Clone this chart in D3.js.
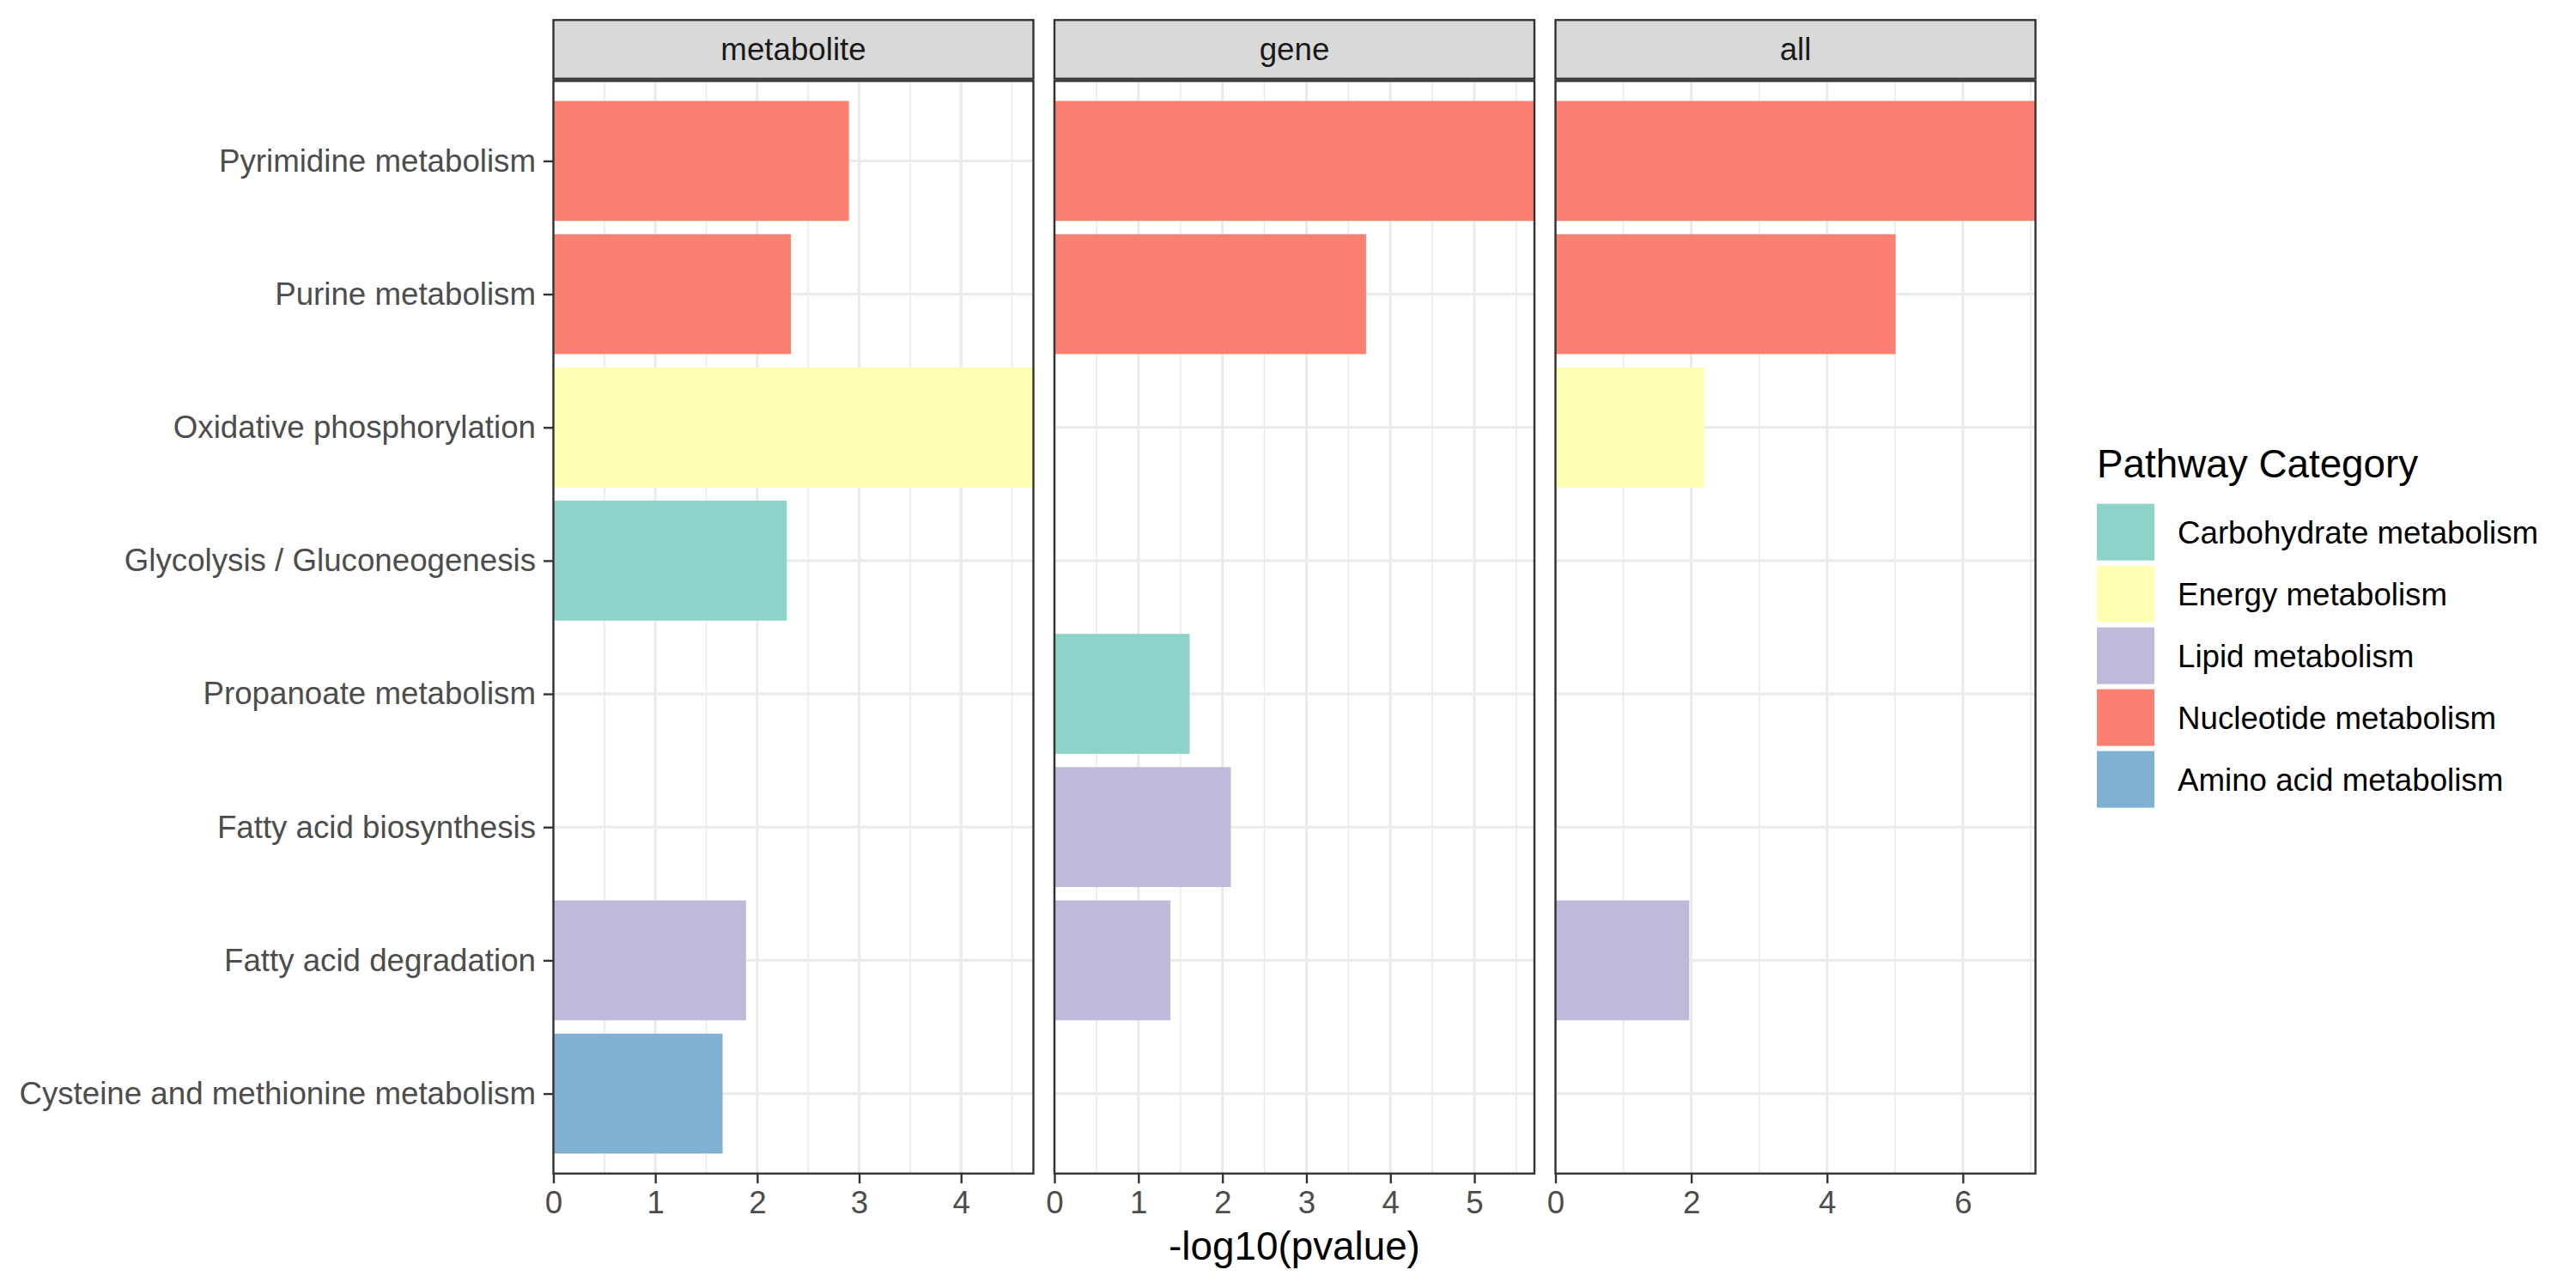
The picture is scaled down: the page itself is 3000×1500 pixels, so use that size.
<!DOCTYPE html>
<html>
<head>
<meta charset="utf-8">
<script src="https://cdn.jsdelivr.net/npm/d3@7"></script>
<style>
  body { margin: 0; background: #fff; }
  text { font-family: "Liberation Sans", Arial, Helvetica, sans-serif; }
</style>
</head>
<body>
<div id="chart"></div>
<script>
// Pathways, top to bottom
const pathways = [
    "Pyrimidine metabolism",
    "Purine metabolism",
    "Oxidative phosphorylation",
    "Glycolysis / Gluconeogenesis",
    "Propanoate metabolism",
    "Fatty acid biosynthesis",
    "Fatty acid degradation",
    "Cysteine and methionine metabolism"
];
const pathwayCategory = [
    "Nucleotide metabolism",
    "Nucleotide metabolism",
    "Energy metabolism",
    "Carbohydrate metabolism",
    "Carbohydrate metabolism",
    "Lipid metabolism",
    "Lipid metabolism",
    "Amino acid metabolism"
];
const categories = ["Carbohydrate metabolism", "Energy metabolism", "Lipid metabolism", "Nucleotide metabolism", "Amino acid metabolism"];
const categoryColors = ["#8DD3C7", "#FFFFB3", "#BEBADA", "#FB8072", "#80B1D3"];

const facets = ["metabolite", "gene", "all"];
// -log10(pvalue), null = not present
const metaboliteValues = [2.90, 2.33, 4.71, 2.29, null, null, 1.89, 1.66];
const geneValues = [5.715, 3.71, null, null, 1.61, 2.10, 1.38, null];
const allValues = [7.07, 5.01, 2.19, null, null, null, 1.97, null];
const facetValues = [metaboliteValues, geneValues, allValues];

const metaboliteTicks = [0, 1, 2, 3, 4];
const geneTicks = [0, 1, 2, 3, 4, 5];
const allTicks = [0, 2, 4, 6];
const facetTicks = [metaboliteTicks, geneTicks, allTicks];

const W = 3000, H = 1500;
const panelTop = 94.3, panelBottom = 1366.7;
const panelW = 559, panelGap = 24.5, firstLeft = 644.5;
const stripTop = 23.3, stripBottom = 91.7;
const tickLen = 11.5;
const axisFont = 36.7, titleFont = 45.8;

const svg = d3.select("#chart").append("svg")
    .attr("width", W)
    .attr("height", H);

svg.append("rect").attr("width", W).attr("height", H).attr("fill", "#fff");

const color = d3.scaleOrdinal().domain(categories).range(categoryColors);

const y = d3.scalePoint()
    .domain(pathways)
    .range([panelTop, panelBottom])
    .padding(0.6);
const barH = y.step() * 0.9;

facets.forEach((facet, fi) => {
    const left = firstLeft + fi * (panelW + panelGap);
    const values = facetValues[fi];
    const ticks = facetTicks[fi];

    const x = d3.scaleLinear()
        .domain([0, d3.max(values)])
        .range([left, left + panelW]);

    const g = svg.append("g");

    // minor grid
    const minor = [];
    const tStep = ticks[1] - ticks[0];
    for (let v = ticks[0] + tStep / 2; v < x.domain()[1]; v += tStep) minor.push(v);
    g.selectAll(".minor").data(minor).enter().append("line")
        .attr("x1", d => x(d)).attr("x2", d => x(d))
        .attr("y1", panelTop).attr("y2", panelBottom)
        .attr("stroke", "#EBEBEB").attr("stroke-width", 1.6);

    // major grid
    g.selectAll(".vmajor").data(ticks).enter().append("line")
        .attr("x1", d => x(d)).attr("x2", d => x(d))
        .attr("y1", panelTop).attr("y2", panelBottom)
        .attr("stroke", "#EBEBEB").attr("stroke-width", 3.2);
    g.selectAll(".hmajor").data(pathways).enter().append("line")
        .attr("x1", left).attr("x2", left + panelW)
        .attr("y1", d => y(d)).attr("y2", d => y(d))
        .attr("stroke", "#EBEBEB").attr("stroke-width", 3.2);

    // bars
    const rows = pathways.map((p, i) => ({p, v: values[i], c: pathwayCategory[i]}))
        .filter(d => d.v != null);
    g.selectAll(".bar").data(rows).enter().append("rect")
        .attr("x", x(0))
        .attr("y", d => y(d.p) - barH / 2)
        .attr("width", d => x(d.v) - x(0))
        .attr("height", barH)
        .attr("fill", d => color(d.c));

    // panel border
    g.append("rect")
        .attr("x", left).attr("y", panelTop)
        .attr("width", panelW).attr("height", panelBottom - panelTop)
        .attr("fill", "none").attr("stroke", "#333333").attr("stroke-width", 2.4);

    // strip
    g.append("rect")
        .attr("x", left).attr("y", stripTop)
        .attr("width", panelW).attr("height", stripBottom - stripTop)
        .attr("fill", "#D9D9D9").attr("stroke", "#333333").attr("stroke-width", 2.4);
    g.append("text")
        .attr("x", left + panelW / 2)
        .attr("y", (stripTop + stripBottom) / 2 + axisFont * 0.35)
        .attr("text-anchor", "middle")
        .attr("font-size", axisFont)
        .attr("fill", "#1A1A1A")
        .text(facet);

    // x axis
    const xAxis = svg.append("g")
        .attr("transform", `translate(0,${panelBottom})`)
        .call(d3.axisBottom(x).tickValues(ticks).tickSize(tickLen).tickPadding(9).tickFormat(d3.format("d")));
    xAxis.select(".domain").remove();
    xAxis.selectAll(".tick line").attr("stroke", "#333333").attr("stroke-width", 2.4);
    xAxis.selectAll(".tick text")
        .attr("font-size", axisFont)
        .attr("fill", "#4D4D4D")
        .attr("font-family", "Liberation Sans, Arial, sans-serif");

    if (fi === 0) {
        const yAxis = svg.append("g")
            .attr("transform", `translate(${left},0)`)
            .call(d3.axisLeft(y).tickSize(tickLen).tickPadding(9));
        yAxis.select(".domain").remove();
        yAxis.selectAll(".tick line").attr("stroke", "#333333").attr("stroke-width", 2.4);
        yAxis.selectAll(".tick text")
            .attr("font-size", axisFont)
            .attr("fill", "#4D4D4D")
            .attr("font-family", "Liberation Sans, Arial, sans-serif");
    }
});

// x axis title
svg.append("text")
    .attr("x", (firstLeft + firstLeft + 3 * panelW + 2 * panelGap) / 2)
    .attr("y", 1467)
    .attr("text-anchor", "middle")
    .attr("font-size", titleFont)
    .attr("fill", "#000")
    .text("-log10(pvalue)");

// legend
const legend = svg.append("g").attr("transform", "translate(2442,0)");
legend.append("text")
    .attr("x", 0).attr("y", 556)
    .attr("font-size", titleFont)
    .attr("fill", "#000")
    .text("Pathway Category");

categories.forEach((c, i) => {
    const top = 586.7 + i * 72;
    legend.append("rect")
        .attr("x", 0).attr("y", top)
        .attr("width", 67).attr("height", 66)
        .attr("fill", color(c));
    legend.append("text")
        .attr("x", 94).attr("y", top + 33 + axisFont * 0.35)
        .attr("font-size", axisFont)
        .attr("fill", "#000")
        .text(c);
});
</script>
</body>
</html>
